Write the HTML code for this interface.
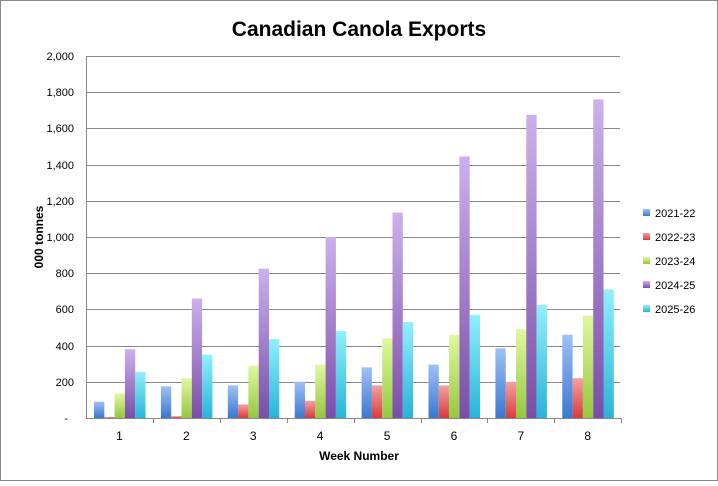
<!DOCTYPE html>
<html><head><style>body{margin:0;background:#fff}</style></head><body>
<svg width="718" height="481" xmlns="http://www.w3.org/2000/svg" font-family="Liberation Sans, sans-serif">
<defs>
<linearGradient id="g0" x1="0" y1="0" x2="0" y2="1"><stop offset="0" stop-color="#9ec0f5"/><stop offset="1" stop-color="#3b78d0"/></linearGradient>
<linearGradient id="g1" x1="0" y1="0" x2="0" y2="1"><stop offset="0" stop-color="#f5a0a0"/><stop offset="1" stop-color="#d83c3c"/></linearGradient>
<linearGradient id="g2" x1="0" y1="0" x2="0" y2="1"><stop offset="0" stop-color="#e0f8a0"/><stop offset="1" stop-color="#94c840"/></linearGradient>
<linearGradient id="g3" x1="0" y1="0" x2="0" y2="1"><stop offset="0" stop-color="#ccb0ec"/><stop offset="1" stop-color="#7a4ea8"/></linearGradient>
<linearGradient id="g4" x1="0" y1="0" x2="0" y2="1"><stop offset="0" stop-color="#90f0fc"/><stop offset="1" stop-color="#28b4d8"/></linearGradient>
</defs>
<rect x="0.5" y="0.5" width="717" height="480" fill="#fff" stroke="#888"/>
<text x="359" y="36" text-anchor="middle" font-size="21" font-weight="bold">Canadian Canola Exports</text>
<g stroke="#888" stroke-width="1">
<line x1="86" y1="56.5" x2="620" y2="56.5"/><line x1="86" y1="92.5" x2="620" y2="92.5"/><line x1="86" y1="128.5" x2="620" y2="128.5"/><line x1="86" y1="165.5" x2="620" y2="165.5"/><line x1="86" y1="201.5" x2="620" y2="201.5"/><line x1="86" y1="237.5" x2="620" y2="237.5"/><line x1="86" y1="273.5" x2="620" y2="273.5"/><line x1="86" y1="309.5" x2="620" y2="309.5"/><line x1="86" y1="346.5" x2="620" y2="346.5"/><line x1="86" y1="382.5" x2="620" y2="382.5"/>
</g>
<g id="bars"></g>
<g stroke="#888"><line x1="86.5" y1="56" x2="86.5" y2="418"/><line x1="86" y1="418.5" x2="621" y2="418.5"/></g>
<g id="ticks" stroke="#888"></g>
<g font-size="11" text-anchor="end" fill="#000">
<text x="74" y="60">2,000</text><text x="74" y="96">1,800</text><text x="74" y="132">1,600</text><text x="74" y="169">1,400</text><text x="74" y="205">1,200</text><text x="74" y="241">1,000</text><text x="74" y="277">800</text><text x="74" y="313">600</text><text x="74" y="350">400</text><text x="74" y="386">200</text><text x="68" y="422">-</text>
</g>
<g id="xl" font-size="12" text-anchor="middle"></g>
<text x="359" y="460" text-anchor="middle" font-size="12" font-weight="bold">Week Number</text>
<text transform="translate(43,237) rotate(-90)" text-anchor="middle" font-size="12" font-weight="bold">000 tonnes</text>
<g font-size="11">
<rect x="643" y="209" width="7" height="7" fill="url(#g0)"/><text x="655" y="217">2021-22</text>
<rect x="643" y="233" width="7" height="7" fill="url(#g1)"/><text x="655" y="241">2022-23</text>
<rect x="643" y="257" width="7" height="7" fill="url(#g2)"/><text x="655" y="265">2023-24</text>
<rect x="643" y="281" width="7" height="7" fill="url(#g3)"/><text x="655" y="289">2024-25</text>
<rect x="643" y="305" width="7" height="7" fill="url(#g4)"/><text x="655" y="313">2025-26</text>
</g>
</svg>
<script>
var d=[[90,5,135,380,255],[175,10,220,660,350],[180,75,290,825,435],[200,95,295,1000,480],[280,180,440,1135,530],[295,180,460,1445,570],[385,200,490,1675,625],[460,220,565,1760,710]];
var ns="http://www.w3.org/2000/svg",b=document.getElementById("bars"),t=document.getElementById("ticks"),xl=document.getElementById("xl");
var gw=66.9;
d.forEach(function(g,i){var x0=86+i*gw;
g.forEach(function(v,j){var h=v*0.181;var r=document.createElementNS(ns,"rect");r.setAttribute("x",x0+8+j*10.3);r.setAttribute("y",418-h);r.setAttribute("width",10.3);r.setAttribute("height",h);r.setAttribute("fill","url(#g"+j+")");b.appendChild(r);});
var l=document.createElementNS(ns,"line");var tx=Math.round(x0+gw)+0.5;l.setAttribute("x1",tx);l.setAttribute("x2",tx);l.setAttribute("y1",418);l.setAttribute("y2",423);t.appendChild(l);
var s=document.createElementNS(ns,"text");s.setAttribute("x",x0+gw/2);s.setAttribute("y",440);s.textContent=i+1;xl.appendChild(s);});
</script>
</body></html>
